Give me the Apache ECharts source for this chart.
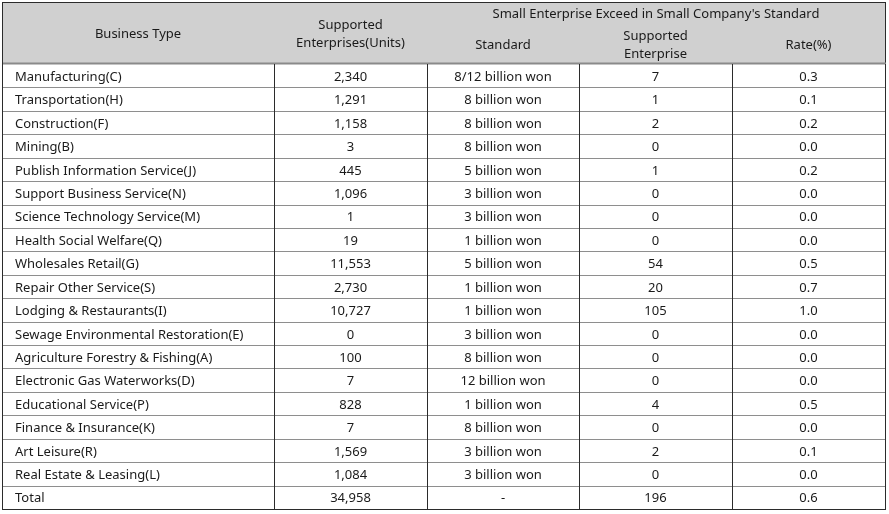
<!DOCTYPE html>
<html><head><meta charset="utf-8">
<script src="https://cdn.jsdelivr.net/npm/echarts@6/dist/echarts.min.js"></script>
<style>html,body{margin:0;padding:0;background:#fff}#c{width:889px;height:514px}</style>
</head><body><div id="c"></div>
<script>
const categories = ['Manufacturing(C)','Transportation(H)','Construction(F)','Mining(B)','Publish Information Service(J)','Support Business Service(N)','Science Technology Service(M)','Health Social Welfare(Q)','Wholesales Retail(G)','Repair Other Service(S)','Lodging & Restaurants(I)','Sewage Environmental Restoration(E)','Agriculture Forestry & Fishing(A)','Electronic Gas Waterworks(D)','Educational Service(P)','Finance & Insurance(K)','Art Leisure(R)','Real Estate & Leasing(L)'];
const supported = [2340,1291,1158,3,445,1096,1,19,11553,2730,10727,0,100,7,828,7,1569,1084];
const standards = ['8/12 billion won','8 billion won','8 billion won','8 billion won','5 billion won','3 billion won','3 billion won','1 billion won','5 billion won','1 billion won','1 billion won','3 billion won','8 billion won','12 billion won','1 billion won','8 billion won','3 billion won','3 billion won'];
const exceeding = [7,1,2,0,1,0,0,0,54,20,105,0,0,0,4,0,2,0];
const rates = [0.3,0.1,0.2,0.0,0.2,0.0,0.0,0.0,0.5,0.7,1.0,0.0,0.0,0.0,0.5,0.0,0.1,0.0];
const totalLabel = 'Total';
const totalSupported = 34958;
const totalStandard = '-';
const totalExceeding = 196;
const totalRate = 0.6;
const headerLabels = ['Business Type','Supported\nEnterprises(Units)',"Small Enterprise Exceed in Small Company's Standard",'Standard','Supported\nEnterprise','Rate(%)'];

// layout (not data)
const FONT = '"Noto Sans", "Liberation Sans", sans-serif';
const colEdges = [0, 272, 425, 577, 730, 883];
const headerSpans = [[0,1,0,62],[1,2,0,62],[2,5,0,22],[2,3,22,62],[3,4,22,62],[4,5,22,62]];

const fmt = v => v.toLocaleString('en-US');
const rows = categories.concat([totalLabel]);
const colText = [
  rows,
  supported.map(fmt).concat([fmt(totalSupported)]),
  standards.concat([totalStandard]),
  exceeding.map(fmt).concat([fmt(totalExceeding)]),
  rates.map(v => v.toFixed(1)).concat([totalRate.toFixed(1)])
];
const bodyData = [];
for (let r = 0; r < rows.length; r++) for (let c = 0; c < 5; c++) bodyData.push([c, r]);
const headerData = headerLabels.map((t, i) => [i]);

const DARK = '#2b2b2b', GREY = '#8e8e8e', TXT = '#1a1a1a';

function line(x1, y1, x2, y2, color, w) {
  return {type:'line', shape:{x1, y1, x2, y2}, style:{stroke:color, lineWidth:w||1}, silent:true};
}

function bodyRender(params, api) {
  const c = api.value(0), r = api.value(1);
  const p0 = api.coord([colEdges[c], r]);
  const p1 = api.coord([colEdges[c+1], r]);
  const h = api.size([0, 1])[1];
  const x0 = Math.round(p0[0]), x1 = Math.round(p1[0]);
  const y0 = Math.round(p0[1] - h/2), y1 = Math.round(p0[1] + h/2);
  const last = r === rows.length - 1;
  const ch = [];
  ch.push({type:'text', style:{text:colText[c][r], x: c === 0 ? x0 + 13 : (x0 + x1)/2, y: p0[1] + 1.5,
    align: c === 0 ? 'left' : 'center', verticalAlign:'middle', font:'13px ' + FONT, fill:TXT}});
  ch.push(line(x0, y1 + 0.5, x1, y1 + 0.5, last ? DARK : GREY, 1));
  ch.push(line(x1 + 0.5, y0, x1 + 0.5, y1 + 1, DARK, 1));
  if (c === 0) ch.push(line(x0 + 0.5, y0, x0 + 0.5, y1 + 1, DARK, 1));
  return {type:'group', children: ch};
}

function headerRender(params, api) {
  const i = api.value(0);
  const s = headerSpans[i];
  const a = api.coord([colEdges[s[0]], s[2]]);
  const b = api.coord([colEdges[s[1]], s[3]]);
  const x0 = Math.round(a[0]), x1 = Math.round(b[0]);
  const y0 = Math.round(a[1]), y1 = Math.round(b[1]);
  const ch = [];
  ch.push({type:'rect', shape:{x:x0, y:y0, width:x1-x0, height:y1-y0}, style:{fill:'#d0d0d0'}});
  ch.push({type:'text', style:{text:headerLabels[i], x:(x0+x1)/2, y:(y0+y1)/2 + 1, align:'center', verticalAlign:'middle',
    font:'13px ' + FONT, fill:TXT, lineHeight:18}});
  ch.push(line(x1 + 0.5, y0, x1 + 0.5, y1, DARK, 1));
  if (s[2] === 0) ch.push(line(x0, y0 + 0.5, x1 + 1, y0 + 0.5, DARK, 1));
  if (s[3] === 22) ch.push(line(x0, y1 + 0.5, x1, y1 + 0.5, DARK, 1));
  else ch.push(line(x0, y1 - 0.5, x1 + 1, y1 - 0.5, '#8a8a8a', 2));
  if (s[0] === 0) ch.push(line(x0 + 0.5, y0, x0 + 0.5, y1, DARK, 1));
  return {type:'group', children: ch};
}

const chart = echarts.init(document.getElementById('c'), null, {renderer:'canvas'});
chart.setOption({
  animation: false,
  backgroundColor: '#ffffff',
  grid: [
    {left: 2, width: 883, top: 2, height: 62},
    {left: 2, width: 883, top: 64, height: 445}
  ],
  xAxis: [
    {gridIndex:0, type:'value', min:0, max:883, show:false},
    {gridIndex:1, type:'value', min:0, max:883, show:false}
  ],
  yAxis: [
    {gridIndex:0, type:'value', min:0, max:62, inverse:true, show:false},
    {gridIndex:1, type:'category', data: rows, inverse:true, show:false, boundaryGap:true}
  ],
  series: [
    {type:'custom', xAxisIndex:0, yAxisIndex:0, data: headerData, renderItem: headerRender, encode:{y:0}},
    {type:'custom', xAxisIndex:1, yAxisIndex:1, data: bodyData, renderItem: bodyRender, encode:{x:0, y:1}}
  ]
});
</script>
</body></html>
